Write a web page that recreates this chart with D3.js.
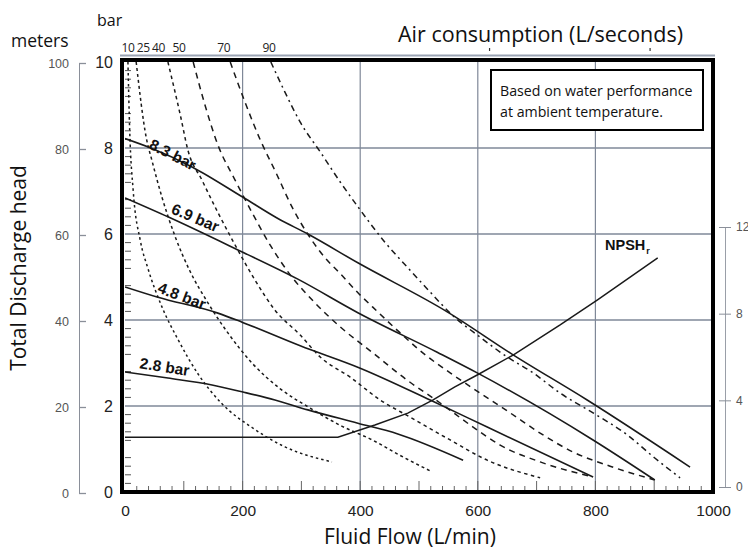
<!DOCTYPE html>
<html><head><meta charset="utf-8">
<script src="https://cdn.jsdelivr.net/npm/d3@7"></script>
<style>body{margin:0;background:#fff}svg{display:block;background:#fff}</style>
</head><body>
<svg id="c" width="748" height="549"></svg>
<script>
// ---------- data ----------
const flowTicks = [0, 200, 400, 600, 800, 1000];
const barTicks = [0, 2, 4, 6, 8, 10];
const meterTicks = [0, 20, 40, 60, 80, 100];
const npshTicks = [0, 4, 8, 12];
const airLabels = ["10", "25", "40", "50", "70", "90"];
const airLabelFlow = [5, 31, 57, 92, 168, 245];
const pressureLabels = ["8.3 bar", "6.9 bar", "4.8 bar", "2.8 bar"];

// pump curves: [flow L/min, head bar]
const curve83 = [[0,8.22],[44,8.0],[114,7.56],[200,6.86],[260,6.36],[311,6.0],[396,5.33],[548,4.19],[660,3.19],[786,2.14],[961,0.58]];
const curve69 = [[0,6.84],[73,6.4],[192,5.63],[294,4.95],[396,4.17],[531,3.25],[599,2.77],[796,1.21],[901,0.28]];
const curve48 = [[0,4.77],[56,4.53],[158,4.16],[199,3.95],[298,3.4],[400,2.88],[519,2.14],[616,1.51],[796,0.35]];
const curve28 = [[0,2.79],[73,2.65],[148,2.49],[199,2.33],[255,2.14],[311,1.91],[396,1.6],[464,1.35],[575,0.74]];

// air consumption curves (L/s)
const air10 = [[5,10],[8,8.4],[14,7.0],[26,5.85],[39,5.2],[63,4.3],[90,3.55],[124,2.75],[165,2.05],[216,1.5],[272,1.05],[352,0.7]];
const air25 = [[19,10],[36,8.25],[46,7.7],[63,6.85],[85,5.95],[110,5.15],[141,4.4],[175,3.7],[216,3.0],[264,2.4],[315,1.95],[366,1.55],[422,1.2],[468,0.85],[522,0.47]];
const air40 = [[73,10],[94,8.77],[107,7.95],[131,7.25],[158,6.5],[187,5.75],[221,4.93],[255,4.23],[298,3.65],[332,3.14],[383,2.67],[434,2.14],[485,1.74],[553,1.21],[616,0.74],[706,0.33]];
const air50 = [[116,10],[136,9.0],[158,8.07],[187,7.26],[216,6.5],[247,5.74],[281,5.05],[323,4.4],[366,3.84],[422,3.23],[480,2.6],[536,2.07],[592,1.51],[638,1.09],[706,0.7],[796,0.35]];
const air70 = [[179,10],[204,9.07],[230,8.19],[257,7.42],[284,6.63],[315,5.91],[340,5.45],[366,5.08],[395,4.65],[429,4.2],[468,3.7],[507,3.23],[553,2.77],[604,2.3],[655,1.84],[706,1.37],[762,0.93],[825,0.6],[901,0.28]];
const air90 = [[248,10],[272,9.3],[298,8.6],[332,7.91],[366,7.21],[400,6.56],[442,5.81],[480,5.23],[519,4.65],[553,4.16],[604,3.6],[650,3.14],[694,2.77],[740,2.3],[796,1.84],[854,1.33],[901,0.79],[944,0.33]];

// NPSHr curve (right axis)
const npsh = [[0,2.3],[362,2.3],[425,2.86],[481,3.41],[524,4.02],[561,4.62],[599,5.17],[660,6.09],[740,7.48],[803,8.63],[906,10.57]];

// ---------- chart ----------
const svg = d3.select("#c");
const x = d3.scaleLinear([0, 1000], [125, 713]);
const y = d3.scaleLinear([0, 10], [492, 62]);
const yM = d3.scaleLinear([0, 100], [493, 63]);
const yR = d3.scaleLinear([0, 12], [487, 227]);

const sans = "'Open Sans','Noto Sans',sans-serif";
const helv = "'Liberation Sans',Arial,sans-serif";

// gridlines
svg.append("g").selectAll("line").data(flowTicks.filter(d => d > 0 && d < 1000)).join("line")
  .attr("x1", d => x(d)).attr("x2", d => x(d)).attr("y1", y(10)).attr("y2", y(0))
  .attr("stroke", "#7f8898").attr("stroke-width", 1.2);
svg.append("g").selectAll("line").data(barTicks.filter(d => d > 0 && d < 10)).join("line")
  .attr("x1", x(0)).attr("x2", x(1000)).attr("y1", d => y(d)).attr("y2", d => y(d))
  .attr("stroke", "#7f8898").attr("stroke-width", 1.4);

// minor ticks inside frame
svg.append("g").selectAll("line").data(d3.range(1, 50)).join("line")
  .attr("x1", x(0)).attr("x2", d => x(0) + (d % 5 === 0 ? 0 : 6))
  .attr("y1", d => y(d * 0.2)).attr("y2", d => y(d * 0.2))
  .attr("stroke", "#555").attr("stroke-width", 1);
svg.append("g").selectAll("line").data(d3.range(1, 50)).join("line")
  .attr("x1", d => x(d * 20)).attr("x2", d => x(d * 20))
  .attr("y1", y(0)).attr("y2", d => y(0) - (d % 5 === 0 ? 11 : 6))
  .attr("stroke", "#666").attr("stroke-width", 1);

// curves
svg.append("clipPath").attr("id", "pl").append("rect")
  .attr("x", x(0)).attr("y", y(10)).attr("width", x(1000) - x(0)).attr("height", y(0) - y(10));
const plot = svg.append("g").attr("clip-path", "url(#pl)");
const lineC = d3.line().x(d => x(d[0])).y(d => y(d[1])).curve(d3.curveMonotoneX);
const airSets = [air10, air25, air40, air50, air70, air90];
const dashes = ["2.5,3", "3,3", "3.5,3.5", "6,5", "6,5", "6,4,2,4"];
airSets.forEach((s, i) => {
  plot.append("path").attr("d", lineC(s)).attr("fill", "none")
    .attr("stroke", "#1a1a1a").attr("stroke-width", 1.5).attr("stroke-dasharray", dashes[i]);
});
[curve83, curve69, curve48, curve28].forEach(s => {
  plot.append("path").attr("d", lineC(s)).attr("fill", "none")
    .attr("stroke", "#1a1a1a").attr("stroke-width", 1.6);
});
const lineN = d3.line().x(d => x(d[0])).y(d => yR(d[1]));
plot.append("path").attr("d", lineN(npsh)).attr("fill", "none")
  .attr("stroke", "#1a1a1a").attr("stroke-width", 1.5);

// frame
svg.append("line").attr("x1", 120).attr("x2", 715).attr("y1", 55.5).attr("y2", 55.5)
  .attr("stroke", "#9aa3b3").attr("stroke-width", 2);
svg.append("rect").attr("x", x(0) - 3).attr("y", y(10) - 2).attr("width", x(1000) - x(0) + 3).attr("height", y(0) - y(10) + 2)
  .attr("fill", "none").attr("stroke", "#000").attr("stroke-width", 4);

// pressure labels
const labelPos = [[39, 8.0, 27], [77, 6.49, 23], [54, 4.65, 21], [24, 2.88, 9]];
pressureLabels.forEach((t, i) => {
  const p = labelPos[i];
  svg.append("text").attr("transform", `translate(${x(p[0])},${y(p[1])}) rotate(${p[2]})`)
    .attr("font-family", "'Liberation Sans Narrow','Liberation Sans',Arial,sans-serif")
    .attr("font-weight", "bold").attr("font-size", 15.5).attr("fill", "#111").text(t);
});

// NPSH label
const nl = svg.append("text").attr("x", 605).attr("y", 250).attr("font-family", helv)
  .attr("font-weight", "bold").attr("font-size", 14.5).attr("fill", "#111");
nl.append("tspan").text("NPSH");
nl.append("tspan").attr("font-size", 9).attr("dx", 1).attr("dy", 4).text("r");

// annotation box
svg.append("rect").attr("x", 491).attr("y", 70).attr("width", 212).attr("height", 60)
  .attr("fill", "#fff").attr("stroke", "#000").attr("stroke-width", 2);
svg.append("text").attr("x", 500).attr("y", 96).attr("font-family", sans).attr("font-size", 14.2)
  .attr("fill", "#111").text("Based on water performance");
svg.append("text").attr("x", 500).attr("y", 117).attr("font-family", sans).attr("font-size", 14.2)
  .attr("fill", "#111").text("at ambient temperature.");

// bottom axis
const gx = svg.append("g").attr("transform", `translate(0,${y(0)})`)
  .call(d3.axisBottom(x).tickValues(flowTicks).tickSize(0).tickPadding(13).tickFormat(d3.format("d")));
gx.select(".domain").remove();
gx.selectAll("text").attr("font-family", helv).attr("font-size", 15.5).attr("fill", "#222");

// left bar axis
const gy = svg.append("g").attr("transform", `translate(113,0)`)
  .call(d3.axisLeft(y).tickValues(barTicks).tickSize(0).tickPadding(0));
gy.select(".domain").remove();
gy.selectAll("text").attr("font-family", helv).attr("font-size", 16).attr("fill", "#222");

// meters axis
const gm = svg.append("g").attr("transform", `translate(79,0)`)
  .call(d3.axisLeft(yM).tickValues(meterTicks).tickSize(7).tickSizeOuter(0).tickPadding(3));
gm.select(".domain").attr("stroke", "#8a8f99").attr("stroke-width", 1);
gm.selectAll(".tick line").attr("x2", 7).attr("stroke", "#8a8f99").attr("stroke-width", 1.3);
gm.selectAll("text").attr("font-family", helv).attr("font-size", 12.5).attr("fill", "#555");

// right NPSH axis
const gr = svg.append("g").attr("transform", `translate(725,0)`)
  .call(d3.axisRight(yR).tickValues(npshTicks).tickSize(6).tickSizeOuter(0).tickPadding(5));
gr.select(".domain").attr("stroke", "#9a9fa8").attr("stroke-width", 1);
gr.selectAll(".tick line").attr("x1", -6).attr("stroke", "#8a8f99");
gr.selectAll("text").attr("font-family", helv).attr("font-size", 12).attr("fill", "#555");

// top air consumption labels
svg.append("g").selectAll("text").data(airLabels).join("text")
  .attr("x", (d, i) => x(airLabelFlow[i])).attr("y", 52).attr("text-anchor", "middle")
  .attr("font-family", sans).attr("font-size", 12).attr("letter-spacing", -0.3).attr("fill", "#222").text(d => d);
svg.selectAll(".toptick").data([620, 893]).join("line").attr("class", "toptick")
  .attr("x1", d => x(d)).attr("x2", d => x(d)).attr("y1", 48).attr("y2", 51)
  .attr("stroke", "#333").attr("stroke-width", 1.2);

// titles
svg.append("text").attr("x", 97).attr("y", 26).attr("font-family", sans).attr("font-size", 16).attr("fill", "#111").text("bar");
svg.append("text").attr("x", 11).attr("y", 47).attr("font-family", sans).attr("font-size", 17.5).attr("fill", "#111").text("meters");
svg.append("text").attr("x", 398).attr("y", 42).attr("font-family", sans).attr("font-size", 21.5).attr("fill", "#111").text("Air consumption (L/seconds)");
svg.append("text").attr("x", 410).attr("y", 544).attr("text-anchor", "middle").attr("font-family", sans)
  .attr("font-size", 21).attr("fill", "#111").text("Fluid Flow (L/min)");
svg.append("text").attr("transform", "translate(26,268) rotate(-90)").attr("text-anchor", "middle")
  .attr("font-family", sans).attr("font-size", 21).attr("fill", "#111").text("Total Discharge head");
</script>
</body></html>
